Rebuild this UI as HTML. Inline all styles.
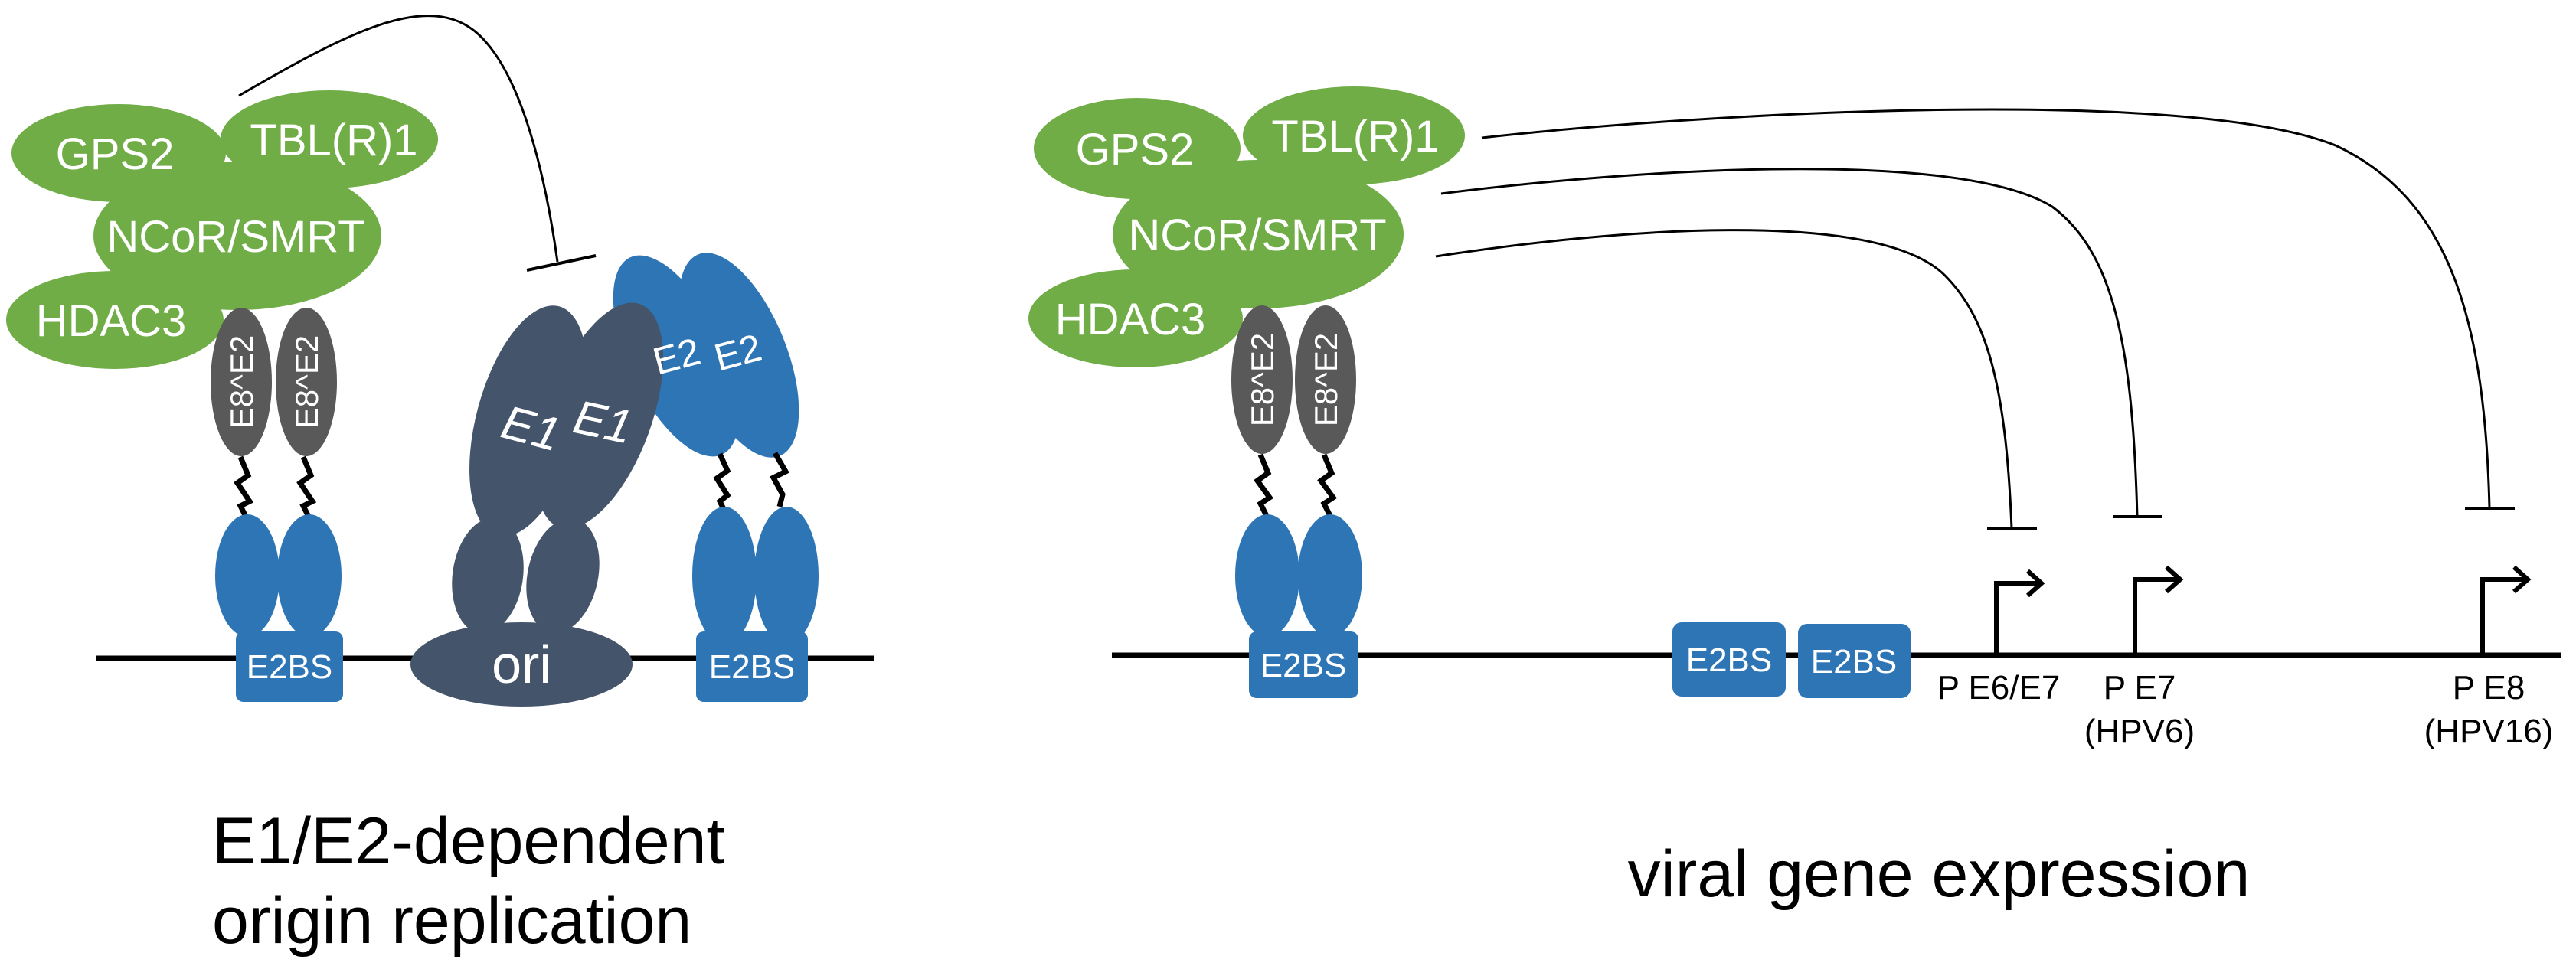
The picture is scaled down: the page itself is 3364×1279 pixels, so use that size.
<!DOCTYPE html>
<html><head><meta charset="utf-8"><style>
html,body{margin:0;padding:0;background:#fff;}
svg{display:block;}
text{font-family:"Liberation Sans",Arial,sans-serif;}
</style></head><body>
<svg width="3364" height="1279" viewBox="0 0 3364 1279" xmlns="http://www.w3.org/2000/svg">
<!-- ===== LEFT PANEL ===== -->
<line x1="125" y1="860" x2="1142" y2="860" stroke="#000" stroke-width="7"/>
<path d="M312,125 C450,45 560,-15 625,45 C690,105 718,270 728,342" fill="none" stroke="#000" stroke-width="3"/>
<line x1="688" y1="353" x2="778" y2="334" stroke="#000" stroke-width="4"/>
<g fill="#70AD47">
<ellipse cx="155" cy="200" rx="140" ry="64"/>
<ellipse cx="430" cy="182" rx="142" ry="64"/>
<ellipse cx="310" cy="308" rx="188" ry="97"/>
<ellipse cx="150" cy="418" rx="142" ry="64"/>
</g>
<g fill="#fff" font-size="58" text-anchor="middle">
<text x="150" y="221">GPS2</text>
<text x="436" y="203">TBL(R)1</text>
<text x="308" y="329">NCoR/SMRT</text>
<text x="145" y="439">HDAC3</text>
</g>
<g fill="#595959">
<ellipse cx="315" cy="499" rx="40" ry="97"/>
<ellipse cx="400" cy="499" rx="40" ry="97"/>
</g>
<g fill="#fff" font-size="42" text-anchor="middle">
<text transform="translate(330,499) rotate(-90)">E8^E2</text>
<text transform="translate(415,499) rotate(-90)">E8^E2</text>
</g>
<g fill="none" stroke="#000" stroke-width="7">
<path d="M314,597 l10,24 l-14,10 l16,24 l-12,6 l8,16"/>
<path d="M396,597 l10,24 l-14,10 l16,24 l-12,6 l8,16"/>
</g>
<g fill="#2E75B6">
<ellipse cx="323" cy="752" rx="42" ry="80"/>
<ellipse cx="404" cy="752" rx="42" ry="80"/>
<rect x="308" y="825" width="140" height="92" rx="10"/>
</g>
<text x="378" y="886" fill="#fff" font-size="44" text-anchor="middle">E2BS</text>
<g fill="#44546A">
<ellipse cx="637" cy="752" rx="46" ry="76" transform="rotate(8 637 752)"/>
<ellipse cx="735" cy="752" rx="46" ry="76" transform="rotate(12 735 752)"/>
<ellipse cx="681" cy="868" rx="145" ry="55"/>
</g>
<text x="681" y="892" fill="#fff" font-size="70" text-anchor="middle">ori</text>
<g fill="#2E75B6">
<ellipse cx="883" cy="465" rx="62" ry="142" transform="rotate(-25 883 465)"/>
<ellipse cx="965" cy="464" rx="62" ry="142" transform="rotate(-22 965 464)"/>
</g>
<g fill="#44546A">
<ellipse cx="690" cy="550" rx="68" ry="155" transform="rotate(15 690 550)"/>
<ellipse cx="783" cy="543" rx="68" ry="155" transform="rotate(20 783 543)"/>
</g>
<g fill="#fff" font-size="62" font-style="italic" text-anchor="middle">
<text transform="translate(688,580) rotate(15)">E1</text>
<text transform="translate(783,572) rotate(12)">E1</text>
</g>
<g fill="#fff" font-size="50" text-anchor="middle">
<text transform="translate(888,482) rotate(-15)">E2</text>
<text transform="translate(968,477) rotate(-15)">E2</text>
</g>
<g fill="none" stroke="#000" stroke-width="7">
<path d="M940,593 l10,22 l-14,10 l14,22 l-10,8 l6,12"/>
<path d="M1012,592 l14,24 l-16,8 l12,22 l-4,16"/>
</g>
<g fill="#2E75B6">
<ellipse cx="946" cy="752" rx="42" ry="90"/>
<ellipse cx="1027" cy="752" rx="42" ry="90"/>
<rect x="909" y="825" width="146" height="92" rx="10"/>
</g>
<text x="982" y="886" fill="#fff" font-size="44" text-anchor="middle">E2BS</text>
<g font-size="86" fill="#000">
<text x="277" y="1128">E1/E2-dependent</text>
<text x="277" y="1232">origin replication</text>
</g>

<!-- ===== RIGHT PANEL ===== -->
<line x1="1452" y1="856" x2="3345" y2="856" stroke="#000" stroke-width="7"/>
<g fill="none" stroke="#000" stroke-width="3">
<path d="M1875,335 C2100,300 2450,270 2540,360 C2600,420 2620,520 2627,690"/>
<path d="M1882,253 C2100,225 2550,190 2680,270 C2760,330 2785,450 2791,675"/>
<path d="M1935,180 C2200,150 2850,110 3050,190 C3200,260 3245,420 3251,664"/>
</g>
<g stroke="#000" stroke-width="4">
<line x1="2595" y1="690" x2="2660" y2="690"/>
<line x1="2759" y1="675" x2="2824" y2="675"/>
<line x1="3219" y1="664" x2="3284" y2="664"/>
</g>
<g fill="#70AD47">
<ellipse cx="1485" cy="194" rx="135" ry="66"/>
<ellipse cx="1768" cy="177" rx="145" ry="64"/>
<ellipse cx="1643" cy="306" rx="190" ry="97"/>
<ellipse cx="1483" cy="416" rx="140" ry="64"/>
</g>
<g fill="#fff" font-size="58" text-anchor="middle">
<text x="1482" y="215">GPS2</text>
<text x="1770" y="198">TBL(R)1</text>
<text x="1642" y="327">NCoR/SMRT</text>
<text x="1476" y="437">HDAC3</text>
</g>
<g fill="#595959">
<ellipse cx="1648" cy="496" rx="40" ry="97"/>
<ellipse cx="1731" cy="496" rx="40" ry="97"/>
</g>
<g fill="#fff" font-size="42" text-anchor="middle">
<text transform="translate(1663,496) rotate(-90)">E8^E2</text>
<text transform="translate(1746,496) rotate(-90)">E8^E2</text>
</g>
<g fill="none" stroke="#000" stroke-width="7">
<path d="M1646,594 l10,24 l-14,10 l16,22 l-12,8 l8,16"/>
<path d="M1729,594 l10,24 l-14,10 l16,22 l-12,8 l8,16"/>
</g>
<g fill="#2E75B6">
<ellipse cx="1655" cy="752" rx="42" ry="80"/>
<ellipse cx="1737" cy="752" rx="42" ry="80"/>
<rect x="1631" y="825" width="143" height="87" rx="10"/>
<rect x="2184" y="813" width="148" height="97" rx="12"/>
<rect x="2348" y="815" width="147" height="97" rx="12"/>
</g>
<g fill="#fff" font-size="44" text-anchor="middle">
<text x="1702" y="884">E2BS</text>
<text x="2258" y="877">E2BS</text>
<text x="2421" y="879">E2BS</text>
</g>
<g fill="none" stroke="#000" stroke-width="6">
<path d="M2607,856 V762 H2664"/>
<path d="M2788,856 V757 H2845"/>
<path d="M3242,856 V757 H3299"/>
<path d="M2648,746 l18,16 l-18,16"/>
<path d="M2829,741 l18,16 l-18,16"/>
<path d="M3283,741 l18,16 l-18,16"/>
</g>
<g font-size="44" fill="#000" text-anchor="middle">
<text x="2610" y="913">P E6/E7</text>
<text x="2794" y="913">P E7</text>
<text x="2794" y="970">(HPV6)</text>
<text x="3250" y="913">P E8</text>
<text x="3250" y="970">(HPV16)</text>
</g>
<text x="2532" y="1171" font-size="86" fill="#000" text-anchor="middle">viral gene expression</text>
</svg>
</body></html>
